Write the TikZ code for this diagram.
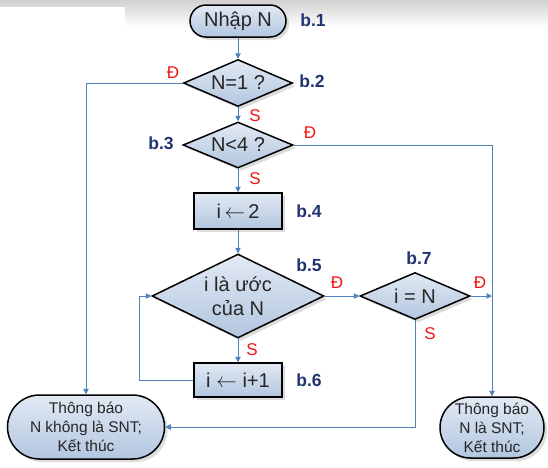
\documentclass[tikz,border=0pt]{standalone}
\usepackage{fontspec}
\setmainfont{Liberation Sans}
\usetikzlibrary{shapes.geometric,shapes.misc,shadows,arrows.meta}
\definecolor{linec}{RGB}{79,129,189}
\definecolor{fillt}{RGB}{226,233,243}
\definecolor{fillb}{RGB}{178,198,224}
\definecolor{lblc}{RGB}{33,52,112}
\definecolor{redc}{RGB}{240,20,20}
\tikzset{
  base/.style={draw=black, line width=1.5pt, top color=fillt, bottom color=fillb,
    text=black!85, inner sep=0pt,
    drop shadow={shadow xshift=3pt, shadow yshift=-3pt, fill=black!30, opacity=.45}},
  term/.style={base, rounded rectangle, font=\fontsize{15.5}{19}\selectfont, align=center},
  stepbox/.style={base, rectangle, font=\fontsize{20}{24}\selectfont},
  decision/.style={base, diamond, shape aspect=2, font=\fontsize{20}{24}\selectfont, align=center},
  conn/.style={draw=linec, line width=0.9pt},
  arr/.style={conn, -{Triangle[width=5.5pt,length=5.5pt]}},
  lbl/.style={text=lblc, font=\fontsize{17.5}{20}\selectfont\bfseries},
  yn/.style={text=redc, font=\fontsize{17}{19}\selectfont},
}
\begin{document}
\begin{tikzpicture}[x=1pt,y=-1pt]
\useasboundingbox (0,0) rectangle (548,467);
% background band
\fill[top color=black!18, bottom color=white, draw=none] (0,0) rectangle (548,27);
\fill[white] (0,7) rectangle (125,27);

% nodes
\node[term, minimum width=96pt, minimum height=32pt, font=\fontsize{20}{24}\selectfont] (n1) at (238,21) {Nhập N};
\node[decision, minimum width=109pt, minimum height=47pt] (d2) at (238,83) {N=1 ?};
\node[decision, minimum width=110pt, minimum height=46pt] (d3) at (238,145) {N<4 ?};
\node[stepbox, minimum width=88pt, minimum height=36pt] (s4) at (238,211) {i\,$\leftarrow$\,2};
\node[decision, minimum width=172pt, minimum height=84pt] (d5) at (238,296) {i là ước\\của N};
\node[decision, minimum width=110pt, minimum height=47pt] (d7) at (415,296) {i = N};
\node[stepbox, minimum width=88pt, minimum height=34pt] (s6) at (238,380) {i $\leftarrow$ i+1};
\node[term, minimum width=157pt, minimum height=64pt] (t1) at (86,427) {Thông báo\\N không là SNT;\\Kết thúc};
\node[term, minimum width=104pt, minimum height=61pt] (t2) at (492,427.5) {Thông báo\\N là SNT;\\Kết thúc};

\coordinate (j) at (d7.east -| t2.north);
\coordinate (lp) at (139,380);

% connectors
\draw[arr] (n1.south) -- (d2.north);
\draw[arr] (d2.west) -| (t1.north);
\draw[arr] (d2.south) -- (d3.north);
\draw[arr] (d3.east) -| (t2.north);
\draw[arr] (d3.south) -- (s4.north);
\draw[arr] (s4.south) -- (d5.north);
\draw[arr] (d5.south) -- (s6.north);
\draw[arr] (d5.east) -- (d7.west);
\draw[arr] (d7.east) -- (j);
\draw[arr] (d7.south) |- (t1.east);
\draw[arr] (s6.west) -- (lp) |- (d5.west);

% labels
\node[lbl] (l1) at (313,20) {b.1};
\node[lbl] (l2) at (312,81) {b.2};
\node[lbl] (l3) at (161,143) {b.3};
\node[lbl] (l4) at (309,211) {b.4};
\node[lbl] (l5) at (309,265) {b.5};
\node[lbl] (l6) at (309,380) {b.6};
\node[lbl] (l7) at (419,258) {b.7};

\node[yn] (y1) at (173,73) {Đ};
\node[yn] (y2) at (310,133) {Đ};
\node[yn] (y3) at (337,283) {Đ};
\node[yn] (y4) at (480,283) {Đ};
\node[yn] (s1) at (255,116) {S};
\node[yn] (s2) at (255,179) {S};
\node[yn] (s3) at (252,350) {S};
\node[yn] (s5) at (430,334) {S};
\end{tikzpicture}
\end{document}
